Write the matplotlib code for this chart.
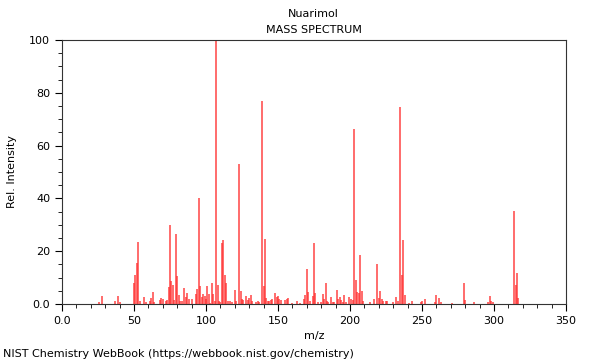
import matplotlib
matplotlib.use("Agg")
import matplotlib.pyplot as plt
from matplotlib.ticker import MultipleLocator, FuncFormatter

# Nuarimol EI mass spectrum
mz = [26, 28, 37, 39, 40, 50, 51, 52, 53, 54, 57, 58, 61, 62, 63, 64,
      68, 69, 70, 72, 73, 74, 75, 76, 77, 78, 79, 80, 81, 82, 83, 85,
      86, 87, 88, 90, 93, 94, 95, 96, 97, 98, 99, 100, 101, 102, 103, 104,
      105, 106, 107, 108, 109, 110, 111, 112, 113, 114, 115, 117, 118, 120, 121, 123,
      124, 125, 126, 128, 129, 130, 131, 132, 135, 136, 137, 139, 140, 141, 142, 143,
      144, 145, 146, 148, 149, 150, 151, 152, 155, 156, 157, 160, 163, 165, 168, 169,
      170, 171, 172, 174, 175, 176, 178, 180, 181, 182, 183, 184, 185, 187, 188, 189,
      191, 192, 193, 194, 195, 196, 197, 199, 201, 202, 203, 204, 205, 206, 207, 208,
      209, 214, 217, 219, 220, 221, 222, 223, 225, 226, 230, 232, 233, 235, 236, 237,
      238, 241, 243, 249, 250, 252, 259, 260, 262, 263, 271, 279, 280, 286, 296, 297,
      298, 299, 314, 315, 316, 317]
intensity = [0.8, 3.0, 1.0, 2.9, 0.8, 8.0, 11.0, 15.7, 23.5, 1.0, 2.7, 0.8, 1.0, 2.4, 4.5, 0.8,
             1.5, 2.3, 1.8, 1.0, 1.5, 6.6, 29.8, 8.7, 7.1, 1.5, 26.4, 10.6, 3.5, 1.0, 1.0, 6.0,
             2.8, 4.0, 1.8, 2.0, 3.7, 5.6, 40.2, 6.8, 2.8, 3.9, 3.0, 2.0, 7.0, 3.7, 0.5, 7.8,
             3.7, 1.0, 100.0, 7.3, 1.1, 0.8, 23.0, 24.4, 11.0, 7.8, 1.0, 1.3, 0.8, 5.2, 1.1, 53.0,
             4.8, 2.0, 1.5, 3.0, 1.5, 2.3, 3.3, 1.0, 0.8, 1.0, 0.8, 76.8, 6.8, 24.6, 2.3, 1.0,
             1.0, 1.5, 2.0, 4.3, 2.8, 3.0, 2.0, 1.5, 1.5, 2.0, 2.3, 0.5, 1.0, 0.5, 1.8, 3.4,
             13.4, 4.7, 1.0, 3.0, 23.1, 4.0, 0.8, 0.8, 3.7, 2.0, 8.1, 1.0, 0.8, 2.7, 0.8, 0.8,
             5.3, 2.0, 2.7, 1.5, 0.8, 3.4, 0.8, 2.8, 1.8, 1.5, 66.3, 9.0, 4.5, 4.0, 18.5, 5.0,
             1.3, 0.8, 2.0, 15.2, 2.4, 4.8, 1.8, 1.3, 1.3, 1.0, 0.8, 2.8, 1.0, 74.6, 10.9, 24.2,
             3.5, 0.5, 1.0, 0.8, 1.0, 1.8, 0.8, 3.5, 2.1, 0.8, 0.5, 7.8, 1.5, 0.8, 0.8, 3.0,
             1.1, 0.8, 35.2, 7.3, 11.6, 2.4]

fig = plt.figure(figsize=(6, 3.6), dpi=100)
ax = fig.add_axes([0.1033, 0.1556, 0.84, 0.7333])

ax.vlines(mz, 0, intensity, colors="#ff3030", linewidth=1.1, alpha=0.9)

ax.set_xlim(0, 350)
ax.set_ylim(0, 100)
ax.xaxis.set_major_locator(MultipleLocator(50))
ax.xaxis.set_minor_locator(MultipleLocator(10))
ax.yaxis.set_major_locator(MultipleLocator(20))
ax.yaxis.set_minor_locator(MultipleLocator(5))

fmt = FuncFormatter(lambda v, p: "0.0" if v == 0 else f"{v:.0f}")
ax.xaxis.set_major_formatter(fmt)
ax.yaxis.set_major_formatter(fmt)

ax.tick_params(axis="both", which="major", labelsize=8, length=5, width=0.8, direction="out")
ax.tick_params(axis="both", which="minor", length=3, width=0.6, direction="out")
for s in ax.spines.values():
    s.set_linewidth(0.8)
    s.set_color("#333333")

ax.set_xlabel("m/z", fontsize=8)
ax.set_ylabel("Rel. Intensity", fontsize=8, labelpad=9)

fig.text(0.523, 0.96, "Nuarimol", ha="center", va="center", fontsize=8)
fig.text(0.523, 0.916, "MASS SPECTRUM", ha="center", va="center", fontsize=8)
fig.text(0.005, 0.018, "NIST Chemistry WebBook (https://webbook.nist.gov/chemistry)",
         ha="left", va="center", fontsize=8)

fig.savefig("out.png", dpi=100)
